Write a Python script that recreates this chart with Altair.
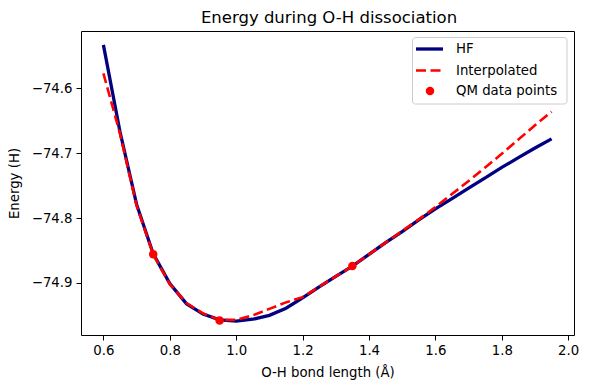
import altair as alt
import pandas as pd

# ---- data ----
bond = [0.60, 0.65, 0.70, 0.75, 0.80, 0.85, 0.90, 0.95, 1.00, 1.05,
        1.10, 1.15, 1.20, 1.25, 1.30, 1.35, 1.40, 1.45, 1.50, 1.55,
        1.60, 1.65, 1.70, 1.75, 1.80, 1.85, 1.90, 1.95]
hf_energy = [-74.533, -74.667, -74.779, -74.855, -74.901, -74.932, -74.948, -74.957,
             -74.959, -74.956, -74.950, -74.939, -74.923, -74.906, -74.890, -74.874,
             -74.856, -74.838, -74.821, -74.803, -74.786, -74.770, -74.754, -74.738,
             -74.722, -74.707, -74.692, -74.678]
interp_energy = [-74.577, -74.670, -74.781, -74.856, -74.902, -74.931, -74.947, -74.957,
                 -74.957, -74.950, -74.940, -74.930, -74.922, -74.906, -74.890, -74.874,
                 -74.856, -74.838, -74.820, -74.802, -74.783, -74.763, -74.743, -74.722,
                 -74.701, -74.679, -74.657, -74.636]
qm_bond = [0.75, 0.95, 1.35]
qm_energy = [-74.856, -74.958, -74.874]

x_ticks = [0.6, 0.8, 1.0, 1.2, 1.4, 1.6, 1.8, 2.0]
y_ticks = [-74.9, -74.8, -74.7, -74.6]
legend_labels = ["HF", "Interpolated", "QM data points"]
chart_title = "Energy during O-H dissociation"

FONT = "DejaVu Sans"
FS = 13.3

hf_df = pd.DataFrame({"bond": bond, "energy": hf_energy})
in_df = pd.DataFrame({"bond": bond, "energy": interp_energy})
qm_df = pd.DataFrame({"bond": qm_bond, "energy": qm_energy})

xs = alt.Scale(domain=[0.5325, 2.0175], nice=False, zero=False)
ys = alt.Scale(domain=[-74.9803, -74.5117], nice=False, zero=False)

X = alt.X("bond:Q", scale=xs,
          axis=alt.Axis(title="O-H bond length (Å)", values=x_ticks, format=".1f",
                        labelPadding=3, titlePadding=9))
Y = alt.Y("energy:Q", scale=ys,
          axis=alt.Axis(title="Energy (H)", values=y_ticks, format=".1f",
                        labelPadding=4, titlePadding=10))

hf_line = alt.Chart(hf_df).mark_line(color="#000080", strokeWidth=3.3).encode(x=X, y=Y)
in_line = alt.Chart(in_df).mark_line(color="#ff0000", strokeWidth=2.6,
                                     strokeDash=[10, 4.5]).encode(x=X, y=Y)
qm_pts = alt.Chart(qm_df).mark_circle(color="#ff0000", opacity=1, size=72).encode(x=X, y=Y)

# ---- title and legend (decoration) ----
blank = alt.Data(values=[{}])
title_mark = alt.Chart(blank).mark_text(align="center", baseline="alphabetic", font=FONT,
                                        fontSize=16.5, color="black").encode(
    x=alt.value(248), y=alt.value(-8.3), text=alt.value(chart_title))
leg_box = alt.Chart(blank).mark_rect(fill="white", fillOpacity=0.8, stroke="#cccccc",
                                     strokeWidth=1, cornerRadius=3).encode(
    x=alt.value(331.5), x2=alt.value(486), y=alt.value(6.5), y2=alt.value(73))
leg_hf = alt.Chart(blank).mark_rule(color="#000080", strokeWidth=3.3).encode(
    x=alt.value(335), x2=alt.value(362), y=alt.value(18))
leg_in = alt.Chart(blank).mark_rule(color="#ff0000", strokeWidth=2.6,
                                    strokeDash=[10, 4.5]).encode(
    x=alt.value(335), x2=alt.value(362), y=alt.value(39.5))
leg_qm = alt.Chart(blank).mark_circle(color="#ff0000", opacity=1, size=72).encode(
    x=alt.value(349), y=alt.value(60))
leg_text = [
    alt.Chart(blank).mark_text(align="left", baseline="middle", font=FONT,
                               fontSize=FS, color="black").encode(
        x=alt.value(375), y=alt.value(yy), text=alt.value(lab))
    for lab, yy in zip(legend_labels, [18, 39.5, 60])
]

chart = alt.layer(hf_line, in_line, qm_pts, title_mark, leg_box, leg_hf, leg_in, leg_qm,
                  *leg_text).properties(
    width=493, height=304,
    padding={"left": 73, "top": 23, "right": 7, "bottom": 48},
    autosize=alt.AutoSizeParams(type="none"),
).configure_view(stroke="black", strokeWidth=1).configure_axis(
    domain=False, grid=False, tickColor="black", tickSize=5, tickWidth=1,
    labelFont=FONT, labelFontSize=FS, labelColor="black",
    titleFont=FONT, titleFontSize=FS, titleFontWeight="normal", titleColor="black",
)

chart.save("out.html", embed_options={"renderer": "svg", "actions": False})
